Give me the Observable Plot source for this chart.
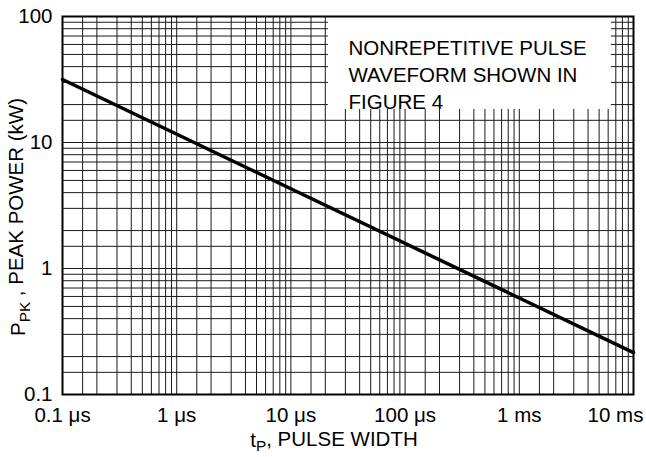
<!DOCTYPE html>
<html><head><meta charset="utf-8">
<script src="https://cdn.jsdelivr.net/npm/d3@7"></script>
<script src="https://cdn.jsdelivr.net/npm/@observablehq/plot@0.6"></script>
<style>body{margin:0;background:#fff;} svg{display:block;}</style>
</head><body><div id="chart"></div>
<script>
// Data (x: pulse width in µs, y: peak power in kW)
const pulseWidthUs = [0.1, 10000];
const peakPowerKW = [31.6, 0.215];

const xTickValues = [0.1, 1, 10, 100, 1000, 10000];
const xTickLabels = ["0.1 μs", "1 μs", "10 μs", "100 μs", "1 ms", "10 ms"];
const yTickValues = [0.1, 1, 10, 100];
const yTickLabels = ["0.1", "1", "10", "100"];
const gridMultipliers = [1, 1.5, 2, 3, 4, 5, 6, 7, 8, 9];
const xDecades = [0.1, 1, 10, 100, 1000];
const yDecades = [0.1, 1, 10];
const noteLines = ["NONREPETITIVE PULSE", "WAVEFORM SHOWN IN", "FIGURE 4"];
const noteBox = {x1: 21.3, x2: 6400, y1: 18.3, y2: 100};

const data = pulseWidthUs.map((x, i) => ({x, y: peakPowerKW[i]}));
const xGrid = xDecades.flatMap(d => gridMultipliers.map(m => d * m)).concat([10000]);
const yGrid = yDecades.flatMap(d => gridMultipliers.map(m => d * m)).concat([100]);

const FONT = "Liberation Sans, Arial, Helvetica, sans-serif";
const FS = 20.5;
const W = 646, H = 457;
const mL = 62, mR = 13, mT = 16, mB = 63;

const chart = Plot.plot({
  width: W, height: H,
  marginLeft: mL, marginRight: mR, marginTop: mT, marginBottom: mB,
  style: {fontFamily: FONT, fontSize: FS + "px", color: "#000", background: "#fff"},
  x: {type: "log", domain: [0.1, 10000], axis: null},
  y: {type: "log", domain: [0.1, 100], axis: null},
  marks: [
    Plot.ruleX(xGrid, {stroke: "#1a1a1a", strokeWidth: 1}),
    Plot.ruleY(yGrid, {stroke: "#1a1a1a", strokeWidth: 1}),
    Plot.rect([noteBox], {x1: "x1", x2: "x2", y1: "y1", y2: "y2", fill: "white", inset: 0}),
    Plot.text([noteLines.join("\n")], {
      frameAnchor: "top-left", textAnchor: "start", lineAnchor: "top",
      dx: 286, dy: 19, lineHeight: 1.317, fontSize: FS, fill: "#000"
    }),
    Plot.line(data, {x: "x", y: "y", stroke: "#000", strokeWidth: 3.5}),
    Plot.frame({stroke: "#000", strokeWidth: 2}),
    Plot.axisX(xTickValues.slice(0, 5), {
      tickSize: 0, tickPadding: 13, fontSize: FS,
      tickFormat: d => xTickLabels[xTickValues.indexOf(d)]
    }),
    Plot.axisX(xTickValues.slice(5), {
      tickSize: 0, tickPadding: 13, fontSize: FS, dx: -18,
      tickFormat: d => xTickLabels[xTickValues.indexOf(d)]
    }),
    Plot.axisY(yTickValues, {
      tickSize: 0, tickPadding: 10, fontSize: FS,
      tickFormat: d => yTickLabels[yTickValues.indexOf(d)]
    })
  ]
});

const svg = d3.select(chart);
// x-axis title with subscript
const xt = svg.append("text")
  .attr("x", 334).attr("y", 447)
  .attr("text-anchor", "middle")
  .attr("font-family", FONT).attr("font-size", FS).attr("fill", "#000");
xt.append("tspan").text("t");
xt.append("tspan").attr("dy", "0.25em").attr("font-size", FS * 0.75).text("P");
xt.append("tspan").attr("dy", "-0.25em").text(", PULSE WIDTH");

// y-axis title with subscript, rotated
const yt = svg.append("text")
  .attr("transform", "translate(25,217) rotate(-90)")
  .attr("text-anchor", "middle")
  .attr("font-family", FONT).attr("font-size", FS).attr("fill", "#000");
yt.append("tspan").text("P");
yt.append("tspan").attr("dy", "0.3em").attr("font-size", FS * 0.75).text("PK");
yt.append("tspan").attr("dy", "-0.3em").text(" , PEAK POWER (kW)");

document.getElementById("chart").appendChild(chart);
</script>
</body></html>
